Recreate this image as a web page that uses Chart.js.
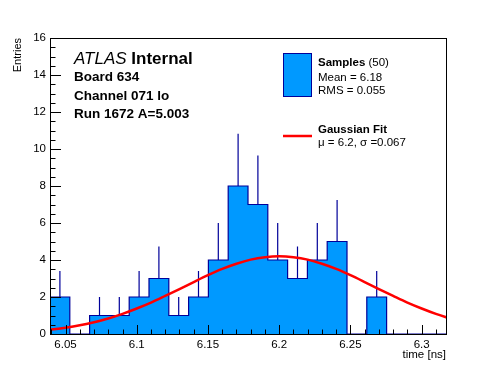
<!DOCTYPE html>
<html>
<head>
<meta charset="utf-8">
<script src="https://cdn.jsdelivr.net/npm/chart.js@4/dist/chart.umd.min.js"></script>
<style>
html,body{margin:0;padding:0;background:#fff;}
#wrap{position:relative;width:496px;height:372px;}
canvas{display:block;}
</style>
</head>
<body>
<div id="wrap"><canvas id="c" width="496" height="372"></canvas></div>
<script>
// ---- data ----
const binEdges = [6.0391, 6.0530, 6.0669, 6.0808, 6.0947, 6.1086, 6.1225, 6.1364, 6.1503, 6.1642,
                  6.1781, 6.1920, 6.2059, 6.2198, 6.2337, 6.2476, 6.2615, 6.2754, 6.2893, 6.3032, 6.3171];
const counts   = [2, 0, 1, 1, 2, 3, 1, 2, 4, 8, 7, 4, 3, 4, 5, 0, 2, 0, 0, 0];
const errors   = [1.41, 0, 1, 1, 1.41, 1.73, 1, 1.41, 2, 2.83, 2.65, 2, 1.73, 2, 2.24, 0, 1.41, 0, 0, 0];
const fitX = [6.03, 6.04, 6.05, 6.06, 6.07, 6.08, 6.09, 6.10, 6.11, 6.12, 6.13, 6.14, 6.15, 6.16, 6.17,
              6.18, 6.19, 6.20, 6.21, 6.22, 6.23, 6.24, 6.25, 6.26, 6.27, 6.28, 6.29, 6.30, 6.31, 6.32];
const fitY = [0.17, 0.24, 0.34, 0.47, 0.64, 0.84, 1.09, 1.38, 1.70, 2.06, 2.43, 2.81, 3.18, 3.52, 3.80,
              4.02, 4.15, 4.20, 4.15, 4.02, 3.80, 3.52, 3.18, 2.81, 2.43, 2.06, 1.70, 1.38, 1.09, 0.84];
const xRange = [6.0391, 6.3171];
const yRange = [0, 16];
const xTickStep = 0.05, xMinorStep = 0.01;
const yTickStep = 2, yMinorStep = 0.5;
const xTitle = 'time [ns]';
const yTitle = 'Entries';
const headerLines = ['Board 634', 'Channel 071 lo', 'Run 1672 A=5.003'];
const legendSamples = ['Samples', '(50)', 'Mean = 6.18', 'RMS = 0.055'];
const legendFit = ['Gaussian Fit', '\u03bc = 6.2, \u03c3 =0.067'];

const FILL = '#0099ff', LINE = '#000099', RED = '#ff0000';
const FONT = '"Liberation Sans", Arial, Helvetica, sans-serif';

// histogram step points
const histPts = counts.map((v, i) => ({x: binEdges[i], y: v}));
histPts.push({x: binEdges[binEdges.length - 1], y: counts[counts.length - 1]});
// error bars (upper part visible above bars)
const errPts = [];
counts.forEach((v, i) => {
  if (v > 0) {
    const c = (binEdges[i] + binEdges[i + 1]) / 2;
    errPts.push({x: c, y: v}, {x: c, y: v + errors[i]}, {x: c, y: null});
  }
});
const fitPts = fitX.map((x, i) => ({x, y: fitY[i]}));

const frameTicks = {
  id: 'frameTicks',
  afterDraw(chart) {
    const {ctx, chartArea: a, scales: {x, y}} = chart;
    ctx.save();
    ctx.strokeStyle = '#000';
    ctx.lineWidth = 1;
    ctx.beginPath();
    // y ticks
    for (let k = 0; k * yMinorStep <= yRange[1] + 1e-9; k++) {
      const v = k * yMinorStep;
      const py = Math.round(y.getPixelForValue(v)) + 0.5;
      const major = Math.abs(v / yTickStep - Math.round(v / yTickStep)) < 1e-6;
      ctx.moveTo(a.left, py);
      ctx.lineTo(a.left + (major ? 11 : 5.5), py);
    }
    // x ticks
    const start = Math.ceil(xRange[0] / xMinorStep - 1e-6);
    for (let k = start; k * xMinorStep <= xRange[1] + 1e-9; k++) {
      const v = k * xMinorStep;
      const px = Math.round(x.getPixelForValue(v)) + 0.5;
      const major = Math.abs(v / xTickStep - Math.round(v / xTickStep)) < 1e-6;
      ctx.moveTo(px, a.bottom);
      ctx.lineTo(px, a.bottom - (major ? 9 : 4.5));
    }
    ctx.stroke();
    ctx.strokeRect(Math.round(a.left) + 0.5, Math.round(a.top) + 0.5,
                   Math.round(a.right - a.left), Math.round(a.bottom - a.top));
    ctx.restore();

    // header text
    ctx.save();
    ctx.fillStyle = '#000';
    ctx.textBaseline = 'alphabetic';
    ctx.textAlign = 'left';
    ctx.font = 'italic 17px ' + FONT;
    ctx.fillText('ATLAS', 74, 63.5);
    const w = ctx.measureText('ATLAS ').width;
    ctx.font = 'bold 17px ' + FONT;
    ctx.fillText('Internal', 74 + w, 63.5);
    ctx.font = 'bold 13.5px ' + FONT;
    const base = [80.5, 100, 117.5];
    headerLines.forEach((t, i) => ctx.fillText(t, 74, base[i]));

    // legend
    ctx.fillStyle = FILL;
    ctx.fillRect(283.5, 53.5, 28, 43);
    ctx.strokeStyle = LINE;
    ctx.lineWidth = 1;
    ctx.strokeRect(283.5, 53.5, 28, 43);
    ctx.strokeStyle = RED;
    ctx.lineWidth = 2.5;
    ctx.beginPath();
    ctx.moveTo(283, 136);
    ctx.lineTo(312, 136);
    ctx.stroke();
    ctx.fillStyle = '#000';
    ctx.font = 'bold 11.5px ' + FONT;
    ctx.fillText(legendSamples[0], 318, 65.5);
    const ws = ctx.measureText(legendSamples[0] + ' ').width;
    ctx.font = '11.5px ' + FONT;
    ctx.fillText(legendSamples[1], 318 + ws, 65.5);
    ctx.fillText(legendSamples[2], 318, 81);
    ctx.fillText(legendSamples[3], 318, 94);
    ctx.font = 'bold 11.5px ' + FONT;
    ctx.fillText(legendFit[0], 318, 133);
    ctx.font = '11.5px ' + FONT;
    ctx.fillText(legendFit[1], 318, 146);
    ctx.restore();
  }
};

new Chart(document.getElementById('c'), {
  type: 'scatter',
  data: {
    datasets: [
      {
        type: 'line', label: 'Gaussian Fit', data: fitPts, order: 0,
        borderColor: RED, borderWidth: 2.5, pointRadius: 0, fill: false,
        cubicInterpolationMode: 'monotone'
      },
      {
        type: 'line', label: 'Samples', data: histPts, order: 1,
        stepped: 'before', borderColor: LINE, borderWidth: 1.2, backgroundColor: FILL,
        fill: 'origin', pointRadius: 0, tension: 0
      },
      {
        type: 'line', label: 'errors', data: errPts, order: 2, spanGaps: false,
        borderColor: LINE, borderWidth: 1.2, pointRadius: 0, fill: false, tension: 0
      }
    ]
  },
  options: {
    responsive: false,
    animation: false,
    devicePixelRatio: 1,
    layout: {padding: {top: 38, right: 50, left: 0, bottom: 0}},
    plugins: {legend: {display: false}, tooltip: {enabled: false}},
    scales: {
      x: {
        type: 'linear', min: xRange[0], max: xRange[1],
        afterFit(s) { s.height = 38; },
        grid: {display: false, drawTicks: false},
        border: {display: false},
        ticks: {
          stepSize: xTickStep, includeBounds: false, padding: 4, color: '#000',
          font: {family: FONT, size: 11.5},
          callback: v => String(Number(v.toFixed(2)))
        },
        title: {display: true, text: xTitle, align: 'end', color: '#000',
                font: {family: FONT, size: 11.5}, padding: {top: 0, bottom: 10}}
      },
      y: {
        type: 'linear', min: yRange[0], max: yRange[1],
        afterFit(s) { s.width = 50; },
        grid: {display: false, drawTicks: false},
        border: {display: false},
        ticks: {stepSize: yTickStep, padding: 4, color: '#000', font: {family: FONT, size: 11.5}},
        title: {display: true, text: yTitle, align: 'end', color: '#000',
                font: {family: '"Liberation Sans Narrow", ' + FONT, size: 11}, padding: {top: 11, bottom: 0}}
      }
    }
  },
  plugins: [frameTicks]
});
</script>
</body>
</html>
